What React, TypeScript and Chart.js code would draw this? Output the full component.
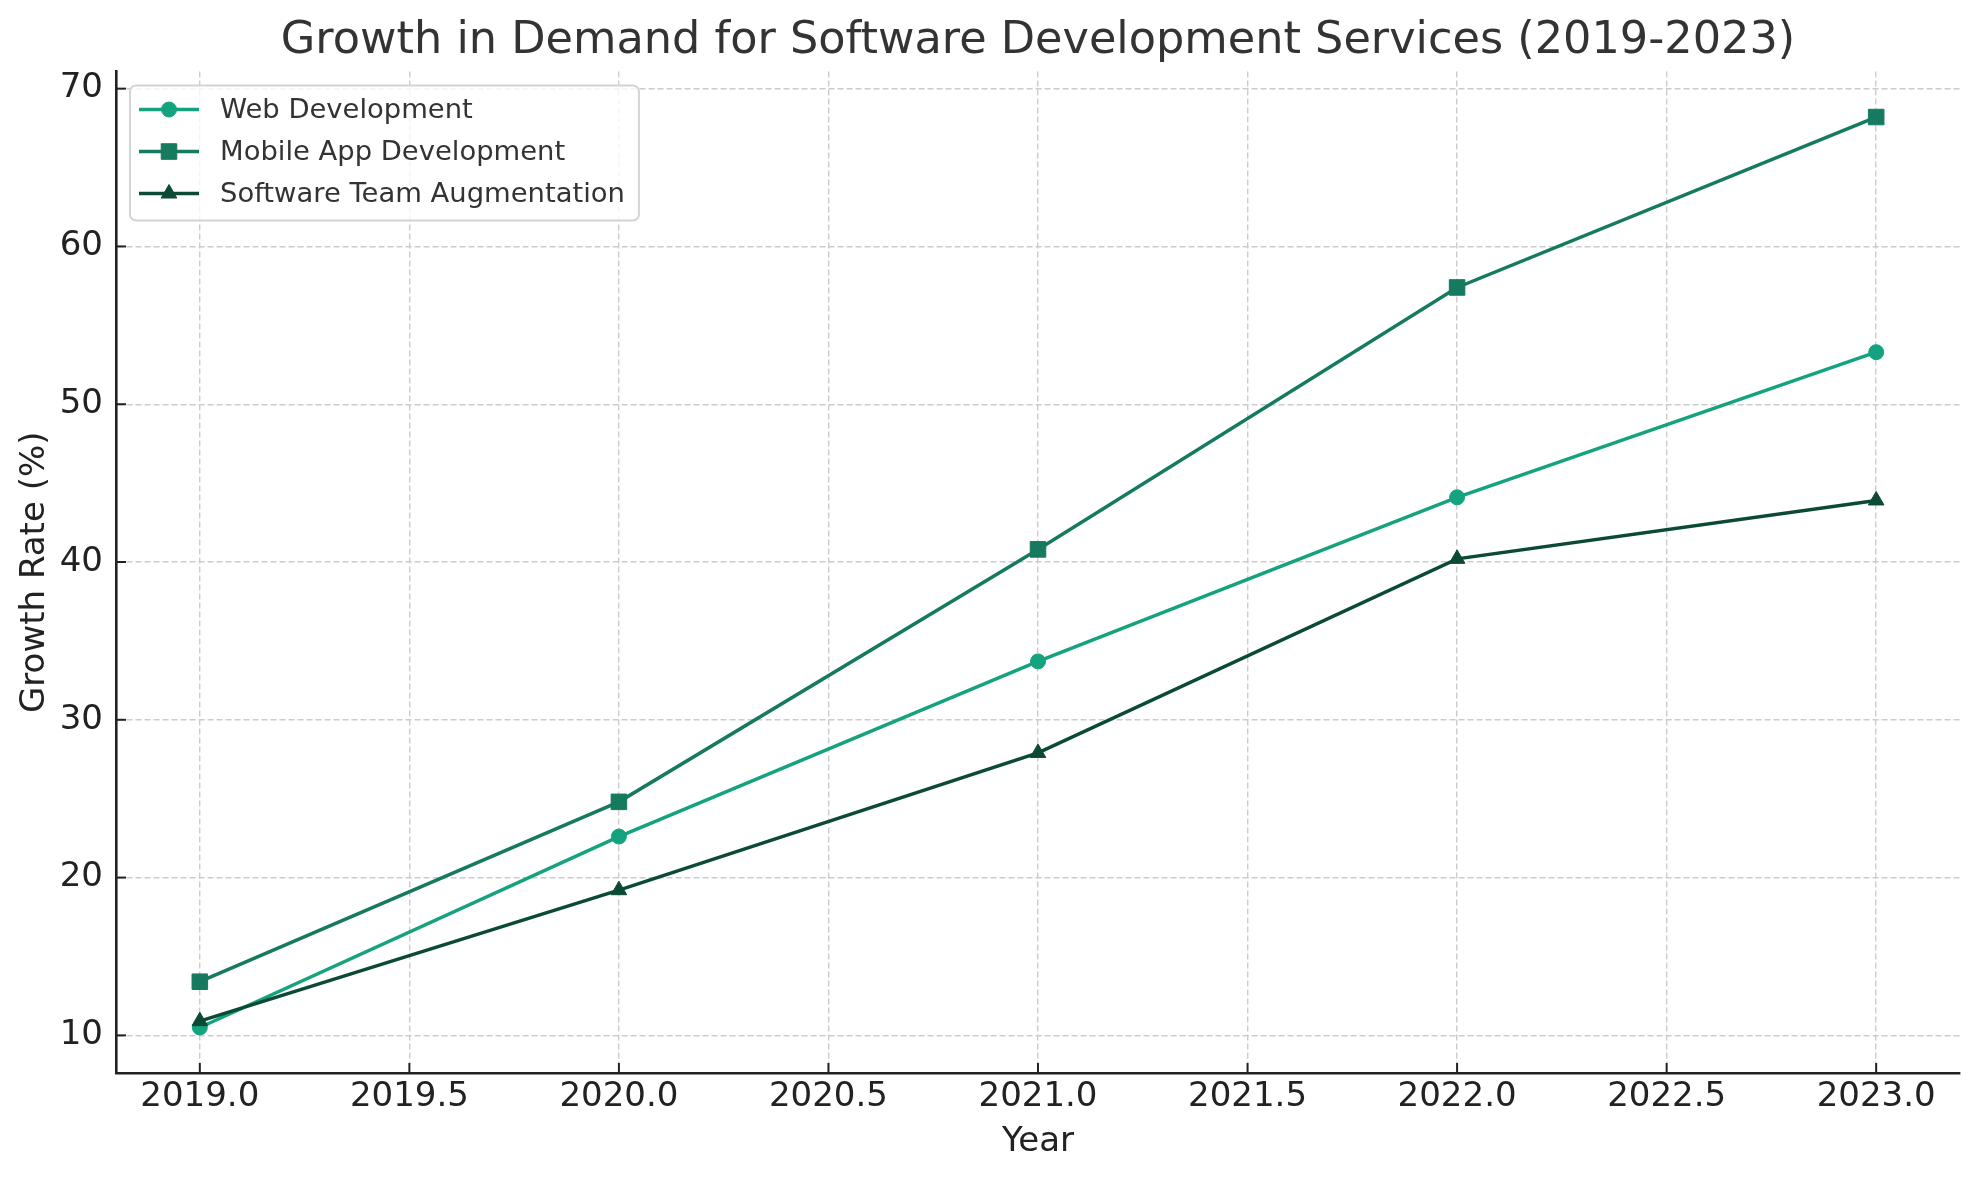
import React, { useEffect, useRef } from 'react';
import { Chart, registerables } from 'chart.js';

Chart.register(...registerables);

const years = [2019, 2020, 2021, 2022, 2023];
const webDevelopment = [10.5, 22.6, 33.7, 44.1, 53.3];
const mobileAppDevelopment = [13.4, 24.8, 40.8, 57.4, 68.2];
const softwareTeamAugmentation = [10.9, 19.2, 27.9, 40.2, 43.9];
const seriesNames = ['Web Development', 'Mobile App Development', 'Software Team Augmentation'];
const xTickValues = [2019.0, 2019.5, 2020.0, 2020.5, 2021.0, 2021.5, 2022.0, 2022.5, 2023.0];
const yTickValues = [10, 20, 30, 40, 50, 60, 70];
const titleText = 'Growth in Demand for Software Development Services (2019-2023)';
const xAxisLabel = 'Year';
const yAxisLabel = 'Growth Rate (%)';

const FONT = "'DejaVu Sans', 'Liberation Sans', sans-serif";
const COLORS = ['#15a37f', '#167a60', '#0a4a36'];
const STYLES = ['circle', 'rect', 'triangle'];
const RADII = [7.5, 11, 9];

function drawMarker(ctx: CanvasRenderingContext2D, style: string, x: number, y: number, r: number, color: string) {
  ctx.save();
  ctx.fillStyle = color;
  ctx.strokeStyle = color;
  ctx.lineWidth = 1;
  ctx.beginPath();
  if (style === 'circle') {
    ctx.arc(x, y, r, 0, Math.PI * 2);
  } else if (style === 'rect') {
    const s = Math.SQRT1_2 * r;
    ctx.rect(x - s, y - s, 2 * s, 2 * s);
  } else {
    let rad = 0;
    ctx.moveTo(x + Math.sin(rad) * r, y - Math.cos(rad) * r);
    rad += (2 * Math.PI) / 3;
    ctx.lineTo(x + Math.sin(rad) * r, y - Math.cos(rad) * r);
    rad += (2 * Math.PI) / 3;
    ctx.lineTo(x + Math.sin(rad) * r, y - Math.cos(rad) * r);
    ctx.closePath();
  }
  ctx.fill();
  ctx.stroke();
  ctx.restore();
}

const inwardTicks = {
  id: 'inwardTicks',
  afterDatasetsDraw(chart: any) {
    const { ctx, chartArea, scales } = chart;
    ctx.save();
    ctx.strokeStyle = '#222222';
    ctx.lineWidth = 2;
    const len = 10;
    scales.x.ticks.forEach((t: any) => {
      const px = scales.x.getPixelForValue(t.value);
      ctx.beginPath();
      ctx.moveTo(px, chartArea.bottom);
      ctx.lineTo(px, chartArea.bottom - len);
      ctx.stroke();
    });
    scales.y.ticks.forEach((t: any) => {
      const py = scales.y.getPixelForValue(t.value);
      ctx.beginPath();
      ctx.moveTo(chartArea.left, py);
      ctx.lineTo(chartArea.left + len, py);
      ctx.stroke();
    });
    ctx.restore();
  },
};

const mplLegend = {
  id: 'mplLegend',
  afterDraw(chart: any) {
    const { ctx, chartArea } = chart;
    const datasets = chart.data.datasets;
    ctx.save();
    ctx.font = `27.4px ${FONT}`;
    const maxW = Math.max(...datasets.map((d: any) => ctx.measureText(d.label).width));
    const x0 = chartArea.left + 14;
    const y0 = chartArea.top + 14;
    const textOffset = 90;
    const w = textOffset + maxW + 14;
    const rowH = 42;
    const h = 24 + rowH * (datasets.length - 1) + 27;
    const r = 6;
    ctx.beginPath();
    ctx.moveTo(x0 + r, y0);
    ctx.lineTo(x0 + w - r, y0);
    ctx.arcTo(x0 + w, y0, x0 + w, y0 + r, r);
    ctx.lineTo(x0 + w, y0 + h - r);
    ctx.arcTo(x0 + w, y0 + h, x0 + w - r, y0 + h, r);
    ctx.lineTo(x0 + r, y0 + h);
    ctx.arcTo(x0, y0 + h, x0, y0 + h - r, r);
    ctx.lineTo(x0, y0 + r);
    ctx.arcTo(x0, y0, x0 + r, y0, r);
    ctx.closePath();
    ctx.fillStyle = 'rgba(255,255,255,0.8)';
    ctx.fill();
    ctx.strokeStyle = '#d4d4d4';
    ctx.lineWidth = 2;
    ctx.stroke();

    datasets.forEach((d: any, i: number) => {
      const cy = y0 + 24 + i * rowH;
      ctx.strokeStyle = d.borderColor;
      ctx.lineWidth = d.borderWidth;
      ctx.beginPath();
      ctx.moveTo(x0 + 9, cy);
      ctx.lineTo(x0 + 69, cy);
      ctx.stroke();
      drawMarker(ctx, d.pointStyle, x0 + 39, cy, d.pointRadius, d.borderColor);
      ctx.fillStyle = '#333333';
      ctx.textAlign = 'left';
      ctx.textBaseline = 'middle';
      ctx.fillText(d.label, x0 + textOffset, cy + 1);
    });
    ctx.restore();
  },
};

export default function App() {
  const ref = useRef<HTMLCanvasElement>(null);

  useEffect(() => {
    const canvas = ref.current;
    if (!canvas) return;
    const series = [webDevelopment, mobileAppDevelopment, softwareTeamAugmentation];
    const all = series.flat();
    const dMin = Math.min(...all);
    const dMax = Math.max(...all);
    const yPad = (dMax - dMin) * 0.05;
    const xPad = (years[years.length - 1] - years[0]) * 0.05;

    const datasets = series.map((vals, i) => ({
      label: seriesNames[i],
      data: years.map((yr, j) => ({ x: yr, y: vals[j] })),
      borderColor: COLORS[i],
      backgroundColor: COLORS[i],
      pointBackgroundColor: COLORS[i],
      pointBorderColor: COLORS[i],
      pointBorderWidth: 1,
      pointStyle: STYLES[i],
      pointRadius: RADII[i],
      borderWidth: 3.5,
      tension: 0,
      fill: false,
      order: 3 - i,
    }));

    const chart = new Chart(canvas, {
      type: 'line',
      data: { datasets },
      options: {
        responsive: false,
        animation: false,
        devicePixelRatio: 1,
        layout: { padding: { left: 0, right: 20, top: 0, bottom: 0 } },
        plugins: {
          legend: { display: false },
          tooltip: { enabled: false },
          title: {
            display: true,
            text: titleText,
            color: '#333333',
            fullSize: false,
            font: { family: FONT, size: 44.6, weight: 'normal' },
            padding: { top: 15, bottom: 3 },
          },
        },
        scales: {
          x: {
            type: 'linear',
            min: years[0] - xPad,
            max: years[years.length - 1] + xPad,
            afterBuildTicks: (s: any) => {
              s.ticks = xTickValues.map((v) => ({ value: v }));
            },
            afterFit: (s: any) => {
              s.height = 107;
            },
            grid: { color: '#cccccc', lineWidth: 1.4, drawTicks: false },
            border: { display: true, color: '#222222', width: 2.6, dash: [6, 3] },
            ticks: {
              padding: 4,
              color: '#222222',
              font: { family: FONT, size: 34 },
              maxRotation: 0,
              autoSkip: false,
              callback: (v: any) => Number(v).toFixed(1),
            },
            title: {
              display: true,
              text: xAxisLabel,
              color: '#222222',
              font: { family: FONT, size: 34 },
              padding: { top: 0, bottom: 17 },
            },
          },
          y: {
            type: 'linear',
            min: dMin - yPad,
            max: dMax + yPad,
            afterBuildTicks: (s: any) => {
              s.ticks = yTickValues.map((v) => ({ value: v }));
            },
            afterFit: (s: any) => {
              s.width = 116;
            },
            grid: { color: '#cccccc', lineWidth: 1.4, drawTicks: false },
            border: { display: true, color: '#222222', width: 2.6, dash: [6, 3] },
            ticks: {
              padding: 13,
              color: '#222222',
              font: { family: FONT, size: 34 },
              autoSkip: false,
              callback: (v: any) => String(Math.round(Number(v))),
            },
            title: {
              display: true,
              text: yAxisLabel,
              color: '#222222',
              font: { family: FONT, size: 34 },
              padding: { top: 15, bottom: 0 },
            },
          },
        },
      },
      plugins: [inwardTicks, mplLegend],
    });

    return () => chart.destroy();
  }, []);

  return (
    <div style={{ position: 'absolute', left: 0, top: 0, width: 1980, height: 1180, background: '#ffffff' }}>
      <canvas ref={ref} width={1980} height={1180} style={{ width: 1980, height: 1180, display: 'block' }} />
    </div>
  );
}
